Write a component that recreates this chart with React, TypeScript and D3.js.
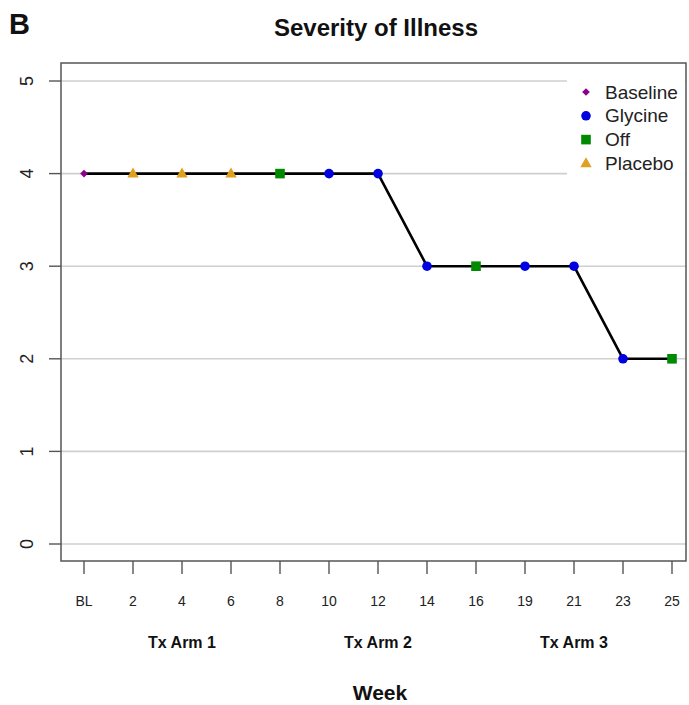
import React from "react";
import * as d3 from "d3";

const weeks = ["BL", "2", "4", "6", "8", "10", "12", "14", "16", "19", "21", "23", "25"];
const severity = [4, 4, 4, 4, 4, 4, 4, 3, 3, 3, 3, 2, 2];
const phase = ["Baseline", "Placebo", "Placebo", "Placebo", "Off", "Glycine", "Glycine", "Glycine", "Off", "Glycine", "Glycine", "Glycine", "Off"];
const legendItems = ["Baseline", "Glycine", "Off", "Placebo"];
const yTicks = [0, 1, 2, 3, 4, 5];
const armLabels = ["Tx Arm 1", "Tx Arm 2", "Tx Arm 3"];
const armWeeks = ["4", "12", "21"];

const colors: Record<string, string> = {
  Baseline: "#8B008B",
  Glycine: "#0000E0",
  Off: "#008A00",
  Placebo: "#E0A020",
};

const W = 689;
const H = 705;
const box = { left: 61, right: 686, top: 63, bottom: 561 };

const x = d3.scalePoint<string>().domain(weeks).range([84, 672]);
const y = d3.scaleLinear().domain([0, 5]).range([544, 81]);

function Marker({ kind, cx, cy }: { kind: string; cx: number; cy: number }) {
  const c = colors[kind];
  if (kind === "Baseline") {
    // rotated-square diamond
    const p = d3.symbol(d3.symbolSquare, 30)();
    return <path d={p!} transform={`translate(${cx},${cy}) rotate(45)`} fill={c} />;
  }
  if (kind === "Glycine") return <circle cx={cx} cy={cy} r={4.8} fill={c} />;
  if (kind === "Off") return <rect x={cx - 4.8} y={cy - 4.8} width={9.6} height={9.6} fill={c} />;
  const p = d3.symbol(d3.symbolTriangle, 56)();
  return <path d={p!} transform={`translate(${cx},${cy + 0.5})`} fill={c} />;
}

export default function App() {
  const line = d3
    .line<number>()
    .x((_, i) => x(weeks[i])!)
    .y((v) => y(v));
  const font = "Liberation Sans, Arial, Helvetica, sans-serif";
  const legend = { x: 567, y: 72, w: box.right - 567 - 1, h: 106 };

  return (
    <svg width={W} height={H} style={{ position: "absolute", left: 0, top: 0, background: "#fff" }} fontFamily={font}>
      <text x={9} y={34} fontSize={29} fontWeight="bold" fill="#111">B</text>
      <text x={376} y={36} fontSize={24} fontWeight="bold" textAnchor="middle" fill="#111">Severity of Illness</text>

      {/* horizontal grid */}
      {yTicks.map((t) => (
        <line key={t} x1={box.left} x2={box.right} y1={y(t)} y2={y(t)} stroke="#cfcfcf" strokeWidth={1.6} />
      ))}

      {/* legend background */}
      <rect x={legend.x} y={legend.y} width={legend.w} height={legend.h} fill="#fff" />
      {legendItems.map((k, i) => (
        <g key={k}>
          <Marker kind={k} cx={586} cy={92 + i * 23.8} />
          <text x={605} y={98.5 + i * 23.8} fontSize={19} fill="#222">{k}</text>
        </g>
      ))}

      {/* plot frame */}
      <rect x={box.left} y={box.top} width={box.right - box.left} height={box.bottom - box.top} fill="none" stroke="#555" strokeWidth={1.5} />

      {/* y axis */}
      {yTicks.map((t) => (
        <g key={t}>
          <line x1={49} x2={box.left} y1={y(t)} y2={y(t)} stroke="#555" strokeWidth={1.4} />
          <text transform={`translate(33,${y(t)}) rotate(-90)`} textAnchor="middle" fontSize={18} fill="#222">{t}</text>
        </g>
      ))}

      {/* x axis */}
      {weeks.map((w) => (
        <g key={w}>
          <line x1={x(w)} x2={x(w)} y1={box.bottom} y2={box.bottom + 13} stroke="#555" strokeWidth={1.4} />
          <text x={x(w)} y={606} textAnchor="middle" fontSize={14} fill="#222">{w}</text>
        </g>
      ))}
      {armLabels.map((a, i) => (
        <text key={a} x={x(armWeeks[i])} y={648} textAnchor="middle" fontSize={16} fontWeight="bold" fill="#111">{a}</text>
      ))}
      <text x={380} y={700} textAnchor="middle" fontSize={21} fontWeight="bold" fill="#111">Week</text>

      {/* series */}
      <path d={line(severity)!} fill="none" stroke="#000" strokeWidth={2.6} strokeLinejoin="round" />
      {severity.map((v, i) => (
        <Marker key={i} kind={phase[i]} cx={x(weeks[i])!} cy={y(v)} />
      ))}
    </svg>
  );
}
